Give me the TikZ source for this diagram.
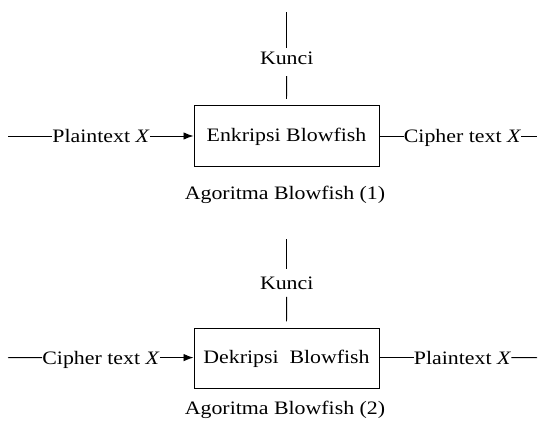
\documentclass[tikz,border=0pt]{standalone}
\usepackage{fontspec}
\setmainfont{Liberation Serif}[FakeStretch=1.15]
\usetikzlibrary{arrows.meta}
\begin{document}
\begin{tikzpicture}[x=1pt,y=-1pt,
  every node/.style={font=\fontsize{19}{22}\selectfont},
  lbl/.style={inner sep=0pt, text height=14pt, text depth=0.6pt, anchor=base},
  blk/.style={draw, line width=1pt, minimum width=185pt, inner sep=0pt},
  wire/.style={line width=0.9pt},
  arr/.style={wire, -{Latex[length=10pt,width=7.5pt]}}]
\useasboundingbox (0,0) rectangle (538,422);

% ---------- Diagram 1 ----------
\node[blk, minimum height=61pt] (box1) at (286.5,136.5) {Enkripsi Blowfish};
\node[lbl] (kunci1) at (286.7,65) {Kunci};
\coordinate (k1top) at (286.7,12.5);
\node[lbl] (in1) at (101,142.7) {Plaintext \textit{X}};
\coordinate (in1s) at (8,136);
\node[lbl] (out1) at (462.5,142.7) {Cipher text \textit{X}};
\coordinate (out1e) at (537,136);
\node[lbl] (cap1) at (285,200) {Agoritma Blowfish (1)};

\draw[wire, shorten >=3pt] (k1top) -- (kunci1.north);
\draw[wire, shorten <=10.4pt, shorten >=6.5pt] (kunci1.south) -- (box1.north);
\draw[wire] (in1s) -- (in1.west);
\draw[arr] (in1.east) -- (box1.west |- in1.east);
\draw[wire] (box1.east |- out1.west) -- (out1.west);
\draw[wire] (out1.east) -- (out1e);

% ---------- Diagram 2 ----------
\node[blk, minimum height=59.5pt] (box2) at (286.5,358.7) {Dekripsi\ \ Blowfish};
\node[lbl] (kunci2) at (286.7,289.5) {Kunci};
\coordinate (k2top) at (286.7,239.3);
\node[lbl] (in2) at (101,364.3) {Cipher text \textit{X}};
\coordinate (in2s) at (8,357.7);
\node[lbl] (out2) at (462.5,364.3) {Plaintext \textit{X}};
\coordinate (out2e) at (537,357.7);
\node[lbl] (cap2) at (285,414.5) {Agoritma Blowfish (2)};

\draw[wire, shorten >=6pt] (k2top) -- (kunci2.north);
\draw[wire, shorten <=6.5pt, shorten >=7pt] (kunci2.south) -- (box2.north);
\draw[wire] (in2s) -- (in2.west);
\draw[arr] (in2.east) -- (box2.west |- in2.east);
\draw[wire] (box2.east |- out2.west) -- (out2.west);
\draw[wire] (out2.east) -- (out2e);
\end{tikzpicture}
\end{document}
